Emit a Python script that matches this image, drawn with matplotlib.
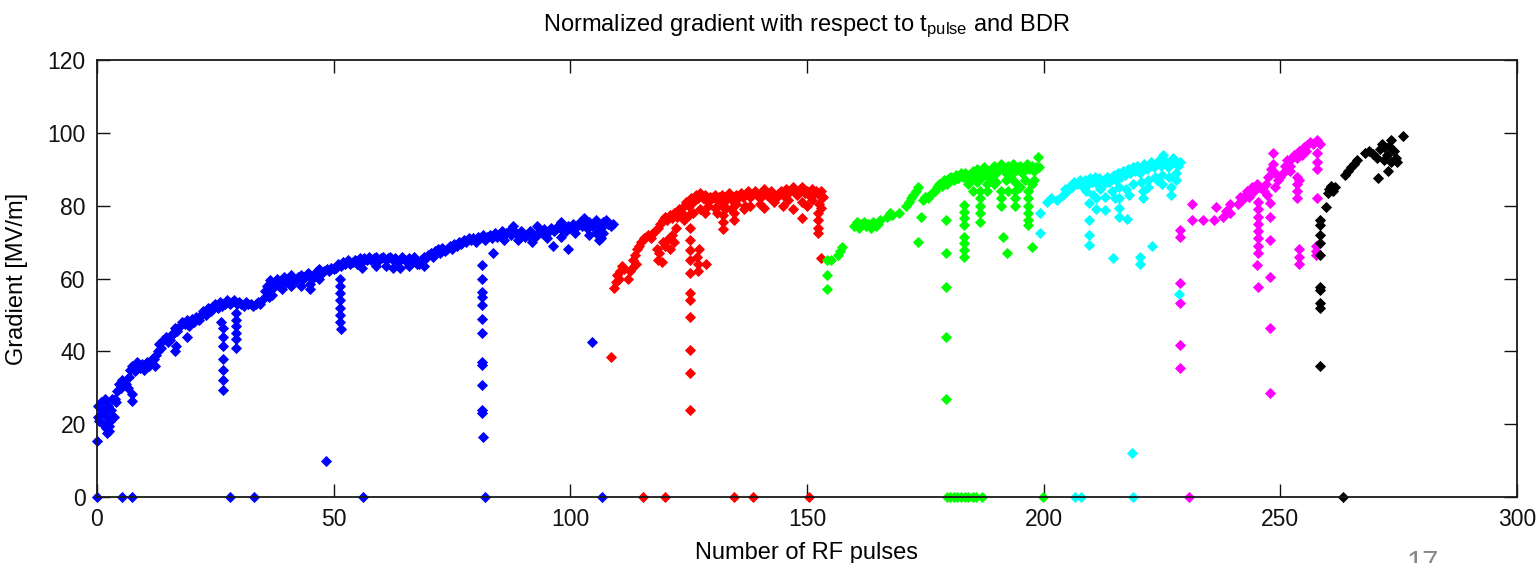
import numpy as np
import matplotlib
matplotlib.use("Agg")
import matplotlib.pyplot as plt

plt.rcParams['font.family'] = ['Liberation Sans', 'DejaVu Sans']
plt.rcParams['mathtext.default'] = 'regular'

# (pulse number, gradient), one array per colour group
blue_pts = np.array([
    (0, 15.5), (0.2, 22), (0.3, 25), (0.5, 21), (0.8, 26), (1, 24), (1.2, 20), (1.5, 23), (1.7, 27),
    (2, 19), (2.2, 22), (2.4, 25), (2.6, 18), (2.8, 21), (3, 24), (3.2, 27), (3.5, 22), (3.8, 27),
    (2.1, 17.5), (2.5, 19.5),
    (4, 26), (4.3, 29), (4.6, 31), (5, 30), (5.3, 32), (5.8, 31), (6.2, 31), (6.5, 30),
    (7.3, 26.3), (7.4, 28.2),
    (6.8, 33), (7, 35), (7.5, 36), (8, 34.5), (8.5, 37), (9, 35.5), (9.5, 36.5), (10, 35), (10.5, 37),
    (11, 36), (11.5, 37.5), (12, 38), (12.5, 39), (12.3, 36),
    (12.8, 40), (13.2, 42), (13.5, 41), (14, 43), (14.5, 44), (15, 42.5), (15.5, 43), (15.8, 44.5),
    (16.5, 40), (16.8, 41.5), (19, 44),
    (16, 45), (16.5, 46.5), (17, 45.5), (17.5, 47), (18, 48), (18.5, 47.5), (19, 48.5), (19.5, 47),
    (20, 49), (20.5, 48), (21, 49.5), (21.5, 48.5), (22, 50),
    (22.5, 51), (23, 50), (23.5, 52), (24, 51), (24.5, 52.5), (25, 53), (25.5, 52), (26, 53.5), (26.5, 52.5),
    (27, 53), (27.5, 54), (28, 53), (28.5, 53.5), (29, 54), (29.5, 53), (30, 53.5), (30.5, 53), (31, 52.5),
    (31.5, 53.5), (32, 53), (32.5, 53), (33, 52.5), (33.5, 53), (34, 53.5), (34.5, 53),
    (35, 54.5), (35.5, 56.5), (36, 58), (36.5, 59.5), (37, 57), (37.5, 58.5), (38, 60), (36.3, 55),
    (38.5, 58), (39, 59.5), (39.5, 60.5), (40, 59), (40.5, 60), (41, 61), (41.5, 60), (42, 59.5),
    (42.5, 60.5), (43, 61), (43.5, 60), (44, 60.5), (44.5, 61.5), (45, 61), (45.5, 60), (46, 61),
    (46.5, 62), (47, 62.5), (47.5, 61.5), (48, 62), (45, 57),
    (37, 55.5), (39, 57), (41, 58), (43, 58), (45, 58.5), (47, 60),
    (48.5, 62.5), (49, 62), (49.5, 63), (50, 62.5), (50.5, 63), (51, 64), (51.5, 63.5), (52, 64.5),
    (52.5, 64), (53, 65), (53.5, 64),
    (26.6, 46.5), (26.6, 44), (26.6, 41.5), (26.6, 38), (26.6, 35), (26.6, 32), (26.6, 29.5), (26.3, 48),
    (29.3, 50.5), (29.3, 48.5), (29.3, 47), (29.3, 45), (29.3, 43.5), (29.3, 41),
    (51.3, 60), (51.3, 58), (51.3, 56), (51.3, 54), (51.3, 52), (51.3, 50), (51.3, 48), (51.6, 46),
    (48.4, 10),
    (54, 64.5), (54.5, 65), (55, 64), (55.5, 65.5), (56, 64.5), (56.5, 65.5), (57, 65), (57.5, 66),
    (58, 65), (58.5, 65.5), (59, 66), (59.5, 65), (60, 65.5), (60.5, 66), (61, 65), (61.5, 65.5),
    (62, 66), (62.5, 65), (63, 65.5), (63.5, 64.5), (64, 65), (64.5, 66), (65, 65), (65.5, 64.5),
    (66, 65.5), (66.5, 65), (67, 66), (67.5, 65), (68, 64), (68.5, 65), (69, 66), (69.5, 65.5),
    (56, 63), (59, 63.5), (61, 63.5), (66, 63.5), (69, 63.5),
    (70, 66.5), (70.5, 67), (71, 66), (71.5, 67.5), (72, 68), (72.5, 67), (73, 68.5), (73.5, 67.5),
    (74, 68), (74.5, 69), (75, 68), (75.5, 69.5), (76, 69), (76.5, 70), (77, 69.5), (77.5, 70.5),
    (78, 70), (78.5, 71), (79, 70.5), (79.5, 71), (80, 70), (80.5, 71.5),
    (62.6, 63), (64, 63), (67.7, 64), (83.7, 67), (96.4, 69), (99.5, 68),
    (81, 71), (81.5, 72), (82, 70.5), (82.5, 71.5), (83, 72), (83.5, 71), (84, 72.5), (84.5, 71.5),
    (85, 72), (85.5, 73), (86, 72), (86.5, 72.5), (87, 73), (87.5, 72), (88, 73), (88.5, 72.5),
    (89, 72), (89.5, 73), (90, 72.5), (90.5, 71.5), (91, 72), (91.5, 73), (92, 72.5), (92.5, 71.5),
    (93, 72), (93.5, 73), (94, 72.5), (94.5, 73.5), (95, 72.5), (95.5, 73), (96, 74), (96.5, 73),
    (97, 73.5), (97.5, 74.5), (98, 73.5), (98.5, 74), (99, 73), (99.5, 74.5), (100, 74), (100.5, 75),
    (101, 74), (101.5, 74.5), (102, 75.5), (102.5, 74.5), (103, 75), (103.5, 74), (104, 75.5),
    (104.5, 74.5), (105, 75), (105.5, 76), (106, 75), (106.5, 74), (107, 75.5), (107.5, 76),
    (108, 75), (108.5, 74.5), (109, 75), (105.5, 72.5), (106.5, 71), (104, 72), (107, 72.5), (106, 70.6),
    (86, 70.5), (89, 70.5), (92, 70), (95, 71), (98, 71.5), (101, 72.5),
    (88, 74.5), (93, 74.5), (98, 75.5), (103, 76.5),
    (81.4, 63.7), (81.4, 60), (81.4, 56.3), (81.4, 55), (81.4, 52.7), (81.4, 49), (81.4, 45),
    (81.4, 37), (81.4, 36.2), (81.4, 30.7), (81.4, 23.9), (81.4, 23.2), (81.6, 16.5),
    (104.5, 42.5),
    (0, 0), (5.2, 0), (7.5, 0), (28, 0), (33.2, 0), (56.2, 0), (82, 0), (106.6, 0),
])

red_pts = np.array([
    (108.7, 38.4),
    (109.3, 57.5), (109.6, 59), (109.8, 61), (110.2, 60), (110.5, 62), (110.9, 63.5), (111.3, 62.5),
    (112.3, 60), (112.6, 62), (113, 63), (113.3, 65), (113.7, 66.5), (114, 68), (114.5, 69), (115, 70),
    (115.5, 71), (113.8, 64),
    (116, 71.5), (116.5, 72), (117, 71), (117.5, 72.5), (118, 73), (118.5, 74), (119, 75), (119.5, 76),
    (120, 77), (120.5, 76), (121, 77.5), (121.5, 76.5), (122, 78),
    (118.3, 68), (118.8, 67), (119.5, 70), (120, 69), (120.5, 70.5), (121, 68), (121.5, 72), (122, 70),
    (118.5, 65), (119.3, 64.5), (122.3, 74),
    (122.5, 77), (123, 79), (123.5, 78), (124, 80), (124.5, 81), (125, 80), (125.5, 82), (126, 81),
    (126.5, 83), (127, 82), (127.5, 83.5), (128, 82), (128.5, 83), (129, 81), (129.5, 82.5),
    (124, 76), (125, 77.5), (126, 78), (127.5, 79), (128.5, 78), (129, 80),
    (125.3, 74), (125.3, 70.6), (125.3, 67.8), (125.3, 65), (125.3, 61.5), (125.3, 56), (125.3, 54),
    (125.3, 49.4), (125.3, 40.4), (125.3, 34), (125.3, 24),
    (127, 62), (127, 64), (126.8, 66), (127.2, 68), (128.7, 64),
    (130, 82), (130.5, 83), (131, 81.5), (131.5, 82.5), (132, 83), (132.5, 81), (133, 82), (133.5, 83.5),
    (134, 82), (134.5, 81), (135, 83), (135.5, 82), (136, 83.5), (136.5, 82.5), (137, 83), (137.5, 84),
    (138, 82.5), (138.5, 83), (139, 84), (139.5, 83), (140, 82), (140.5, 83.5), (141, 84.5), (141.5, 83),
    (142, 82.5), (142.5, 84), (143, 83), (143.5, 82), (144, 83.5), (144.5, 84), (145, 83), (145.5, 84.5),
    (146, 83.5), (146.5, 84), (147, 85), (147.5, 84), (148, 83), (148.5, 84.5), (149, 85), (149.5, 83.5),
    (150, 84), (150.5, 83), (151, 84.5), (151.5, 83.5), (152, 84), (152.5, 83), (153, 84), (153.5, 82.5),
    (130.5, 79.5), (131, 78), (132, 80), (133, 79.5), (135, 80.5), (137, 80), (140, 80.5), (143, 81),
    (146, 81.5), (149, 81), (151, 81.5), (152.5, 80.5), (153, 79.5),
    (134, 79), (138, 80), (141, 79.5), (145, 80), (147, 79), (150, 80),
    (132.3, 77.5), (132.3, 75.5), (132.3, 73.5), (134.5, 78), (134.5, 76), (136.6, 79), (149, 76.6),
    (152.3, 78), (152.3, 76), (152.3, 74), (152.3, 72.5), (153, 65.6),
    (115.4, 0), (120, 0), (134.6, 0), (138.6, 0), (150.4, 0),
])

green_pts = np.array([
    (154.2, 65), (154.2, 61), (154.2, 57), (155, 65), (156.6, 66.5), (157, 67.5), (157.4, 68.6),
    (160, 74.5), (160.5, 75.5), (161, 74), (161.5, 75), (162, 75.5), (162.5, 74.5), (163, 75),
    (163.5, 74), (164, 75.5), (164.5, 74.5), (165, 75), (165.4, 76),
    (167, 77), (167.5, 78), (168, 77.5), (169.5, 78),
    (171, 80), (171.5, 81), (172, 82), (172.5, 83), (173, 84), (173.5, 85), (174, 77), (173.5, 70),
    (174.5, 81.5), (175, 82.5), (175.5, 82), (176, 83), (176.5, 83.5), (177, 84),
    (177.5, 85), (178, 86), (178.5, 85.5), (179, 87), (179.5, 86), (180, 87.5), (180.5, 88), (181, 87),
    (181.5, 88.5), (182, 87.5), (182.5, 89), (183, 88),
    (179.4, 76), (179.4, 67), (179.4, 57.6), (179.4, 44), (179.4, 27),
    (183.2, 80.2), (183.2, 78.3), (183.2, 76.6), (183.2, 74.7), (183.2, 71.4), (183.2, 69.7),
    (183.2, 67.8), (183.2, 65.9),
    (183.5, 89), (184, 87), (184.5, 88.5), (185, 89.5), (185.5, 88), (186, 90), (186.5, 89), (187, 88),
    (187.5, 90.5), (188, 89.5), (188.5, 88), (189, 90), (189.5, 91), (190, 89), (190.5, 90.5), (191, 91.5),
    (191.5, 90), (192, 89), (192.5, 91), (193, 90), (193.5, 91.5), (194, 89.5), (194.5, 90.5), (195, 91),
    (195.5, 89), (196, 90.5), (196.5, 91.5), (197, 90), (197.5, 91), (198, 89.5), (198.5, 90.5),
    (184, 86), (186, 86.5), (188, 86), (190, 86.5), (192, 87), (194, 86.5), (196, 87), (198, 87),
    (185, 84), (188, 84), (189.5, 86), (192.5, 84), (195, 85), (197.5, 86), (193, 88), (189, 87.5),
    (186.6, 84), (186.6, 82), (186.6, 80), (186.6, 78), (186.6, 75.5),
    (191, 84), (191, 82), (191, 80), (191.4, 71.4), (192.3, 67),
    (194, 84), (194, 82), (194, 80),
    (196.7, 84), (196.7, 82), (196.7, 80), (196.7, 78), (196.7, 76), (196.7, 74.7),
    (197.6, 68.6), (198.8, 93.4), (199, 90.6),
    (179.5, 0), (180.3, 0), (181, 0), (181.8, 0), (182.5, 0), (183.3, 0), (184, 0), (185, 0),
    (185.8, 0), (187, 0), (199.8, 0),
])

cyan_pts = np.array([
    (199.2, 78), (199.2, 72.5), (200.7, 81), (201.5, 82), (202.8, 81.5),
    (204, 83), (204.5, 84.5), (205, 84), (205.5, 85.5), (206, 85), (206.5, 86.5), (207, 86), (207.7, 87),
    (208.3, 85), (208.8, 87), (209.3, 86), (209.8, 87.5), (210.3, 86.5), (210.8, 88), (211.3, 86),
    (211.8, 87.5), (212.3, 85.5), (212.8, 87), (213.3, 88), (213.8, 86.5), (214.3, 87.5), (214.8, 88.5),
    (215.3, 87), (215.8, 89), (216.3, 88), (216.8, 89.5), (217.3, 88.5), (217.8, 90), (218.3, 89),
    (218.8, 90.5), (219.3, 89.5), (219.8, 91), (220.3, 89), (220.8, 90.5), (221.3, 91.5), (221.8, 90),
    (222.3, 91), (222.8, 92), (223.3, 90.5), (223.8, 91.5), (224.3, 92.5), (224.8, 91), (225.2, 94),
    (225.8, 92), (226.3, 90.5), (226.8, 91.5), (227.3, 93), (227.8, 92), (228.3, 91), (228.8, 92),
    (209, 84), (210.5, 83), (212, 84.5), (213, 82.5), (214.5, 84), (216, 85), (217.5, 84.5), (219, 86),
    (220.5, 86.5), (222, 87), (223.5, 88), (225, 88.5), (226.5, 88), (228, 89),
    (215, 82), (218, 83), (222, 85), (225, 86), (228, 87),
    (209.6, 80.6), (209.6, 76), (209.6, 72), (209.6, 69.3), (211, 82), (211, 79), (213, 78.8),
    (214.7, 65.6), (216, 82), (216, 79.5), (216, 77), (217.7, 76.4), (218.7, 12), (220.4, 64),
    (220.4, 66), (221, 84), (221, 82), (223, 69), (224, 87), (227, 85), (227, 83),
    (206.6, 0), (208, 0), (219, 0),
])

magenta_pts = np.array([
    (228.8, 71.4), (228.8, 73.3), (228.8, 58.8), (228.8, 53.3), (228.8, 41.7), (228.8, 35.4),
    (231.3, 80.4), (231.3, 76), (233.6, 76), (236, 76), (236.4, 79.7), (238, 77), (238.6, 78.5),
    (239.4, 78), (239.4, 80.5), (241, 80.5), (241.5, 82.5), (242, 81.5), (242.5, 83), (243, 84),
    (243.5, 82.5), (244, 85), (244.5, 84), (245, 86), (245.5, 85),
    (245.3, 81), (245.3, 79), (245.3, 77), (245.3, 75), (245.3, 73), (245.3, 71), (245.3, 69),
    (245.3, 67), (245, 63.7), (245.2, 57.7),
    (246.5, 84), (247, 86), (247.5, 88), (248, 90), (248.5, 91.5), (249, 89), (249.5, 87), (247.2, 83),
    (248.5, 94.5), (249, 85), (250, 88),
    (247.8, 80.7), (247.8, 76.9), (247.8, 70.6), (247.8, 60.4), (247.8, 46.4), (247.8, 28.6),
    (250.6, 89), (251, 91), (251.5, 92.5), (252, 91), (252.5, 93), (253, 94), (253.5, 93), (254, 95),
    (254.5, 94), (255, 96), (255.5, 95), (252, 89.5), (253.6, 88), (253.6, 86), (253.6, 84), (253.6, 82),
    (254, 87), (254, 68), (254, 66), (254, 64),
    (255.6, 96.6), (256.3, 97.5), (257, 97), (257.8, 98), (258.4, 97),
    (257.8, 94.5), (257.8, 92), (257.8, 90), (257.8, 82), (257.6, 69), (257.6, 67.5), (257.6, 66.5),
    (230.8, 0),
])

cyan_late_pts = np.array([(228.6, 55.7)])

black_pts = np.array([
    (258.4, 76), (258.4, 74.7), (258.4, 72), (258.4, 69.7), (258.4, 66.4), (258.4, 57.7), (258.4, 56.8),
    (258.4, 53.3), (258.4, 52), (258.4, 36), (259.7, 79.6),
    (260, 83.5), (260.4, 84.5), (260.8, 85.5), (261.2, 84), (261.6, 85),
    (263.7, 88.5), (264.3, 89.5), (264.9, 90.5), (265.5, 91.5), (266.2, 92.5),
    (268, 94.5), (268.8, 95), (269.6, 94.2),
    (270.4, 93), (271, 95.5), (271.5, 97), (272, 96), (272.5, 94), (273, 96.5), (273.5, 98), (274, 95),
    (274.5, 93), (274.7, 92), (272, 92.5), (273.5, 92),
    (270.7, 87.6), (272.8, 89.5), (276, 99),
    (263.3, 0),
])

series = [
    (blue_pts, (0, 0, 1)),
    (red_pts, (1, 0, 0)),
    (green_pts, (0, 1, 0)),
    (cyan_pts, (0, 1, 1)),
    (magenta_pts, (1, 0, 1)),
    (cyan_late_pts, (0, 1, 1)),
    (black_pts, (0, 0, 0)),
]

fig = plt.figure(figsize=(15.37, 5.63), dpi=100)
ax = fig.add_axes([0.0631, 0.1172, 0.9238, 0.7762])

for pts, col in series:
    ax.plot(pts[:, 0], pts[:, 1], linestyle='none', marker='D', markersize=5,
            markerfacecolor=col, markeredgecolor=col, markeredgewidth=0.6, clip_on=False)

ax.set_xlim(0, 300)
ax.set_ylim(0, 120)
ax.set_xticks(np.arange(0, 301, 50))
ax.set_yticks(np.arange(0, 121, 20))
ax.tick_params(direction='in', length=9.5, width=1, top=True, right=True,
               labelsize=16.5, pad=8, colors='#111111')
for sp in ax.spines.values():
    sp.set_linewidth(1.3)
    sp.set_color('#1a1a1a')

ax.set_title('Normalized gradient with respect to t$_{pulse}$ and BDR', fontsize=17, pad=21)
ax.set_xlabel('Number of RF pulses', fontsize=17, labelpad=8)
ax.set_ylabel('Gradient [MV/m]', fontsize=17, labelpad=14)

# slide number peeking in at the bottom edge, as in the source slide
fig.text(1407 / 1537, 0.025, '17', fontsize=21, color='#888888', ha='left', va='top')

fig.savefig('out.png', dpi=100)
